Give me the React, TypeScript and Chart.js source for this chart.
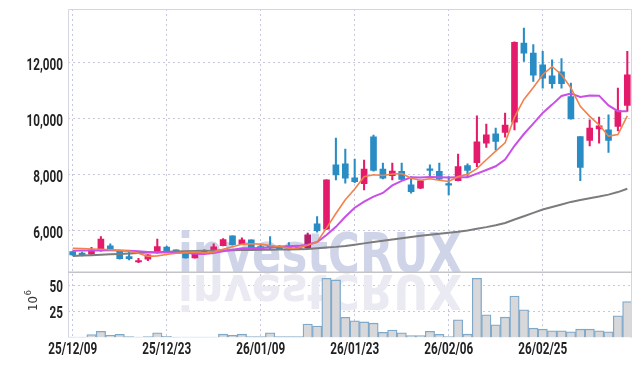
import React, { useEffect, useRef } from 'react';
import { Chart, registerables } from 'chart.js';
Chart.register(...registerables);

const FONT = '"DejaVu Sans Condensed", "Liberation Sans", sans-serif';
const TICK_FONT = 'bold 16px Roboto, "Liberation Sans", sans-serif';

const dates = ['25/12/09','25/12/10','25/12/11','25/12/12','25/12/15','25/12/16','25/12/17','25/12/18','25/12/19','25/12/22',
  '25/12/23','25/12/24','25/12/26','25/12/29','25/12/30','26/01/02','26/01/05','26/01/06','26/01/07','26/01/08',
  '26/01/09','26/01/12','26/01/13','26/01/14','26/01/15','26/01/16','26/01/19','26/01/20','26/01/21','26/01/22',
  '26/01/23','26/01/26','26/01/27','26/01/28','26/01/29','26/01/30','26/02/02','26/02/03','26/02/04','26/02/05',
  '26/02/06','26/02/09','26/02/10','26/02/11','26/02/12','26/02/13','26/02/19','26/02/20','26/02/23','26/02/24',
  '26/02/25','26/02/26','26/02/27','26/03/03','26/03/04','26/03/05','26/03/06','26/03/09','26/03/10','26/03/11'];

const opens = [5236,5180,5143,5271,5440,5271,5057,4868,4964,5200,
  5400,5296,5200,5015,5185,5230,5450,5796,5505,5654,
  5414,5440,5414,5440,5343,5357,6225,6036,8332,8371,
  7870,7660,9330,8185,7945,8100,7618,7500,8189,8100,
  7664,7771,8307,8414,9107,9440,9486,9857,12679,12321,
  11904,11511,11654,10771,9343,9200,9618,9582,9700,10450];

const closes = [5118,5110,5296,5679,5320,4986,4986,4914,5118,5414,
  5225,5225,5015,5220,5271,5410,5665,5480,5654,5360,
  5357,5393,5343,5357,5393,5832,5986,7796,7975,7857,
  7736,8185,8129,7857,8112,7810,7379,7761,8129,7821,
  7607,8271,8129,9154,9404,9164,9750,12700,12321,11536,
  11429,11225,11225,9975,8236,9643,9725,9200,10271,11546];

const highs = [5250,5215,5393,5772,5511,5290,5271,5000,5130,5679,
  5430,5300,5230,5230,5300,5511,5700,5800,5725,5660,
  5480,5775,5450,5557,5410,5893,6486,7800,9286,8893,
  8536,8500,9390,8393,8393,8393,7914,7790,8332,8393,
  7914,8714,8371,10082,9786,9643,10179,12720,13214,12620,
  12379,12082,12125,11250,9343,9939,10036,10118,11071,12379];

const lows = [5100,5082,5130,5250,5280,4970,4939,4843,4914,5180,
  5210,5220,5000,5000,5170,5220,5440,5470,5490,5340,
  5290,5321,5330,5296,5330,5340,5930,6020,7796,7679,
  7700,7439,8110,7830,7796,7790,7321,7480,7914,7800,
  7261,7760,7914,8271,8950,8868,9321,9582,12021,11307,
  11071,11071,11071,9960,7771,9011,9107,8771,9546,10236];

const volumes = [0.3,0.3,2.8,6,2.2,3,0.8,0.3,0.8,4.5,
  1.2,0.3,0.4,0.4,0.4,0.4,3.2,2,3.2,0.8,
  0.8,4.6,0.8,0.8,0.8,13,11,57,55.5,19.5,
  16,15,13.8,5,7.2,4.6,1.8,1.8,6,3,
  1,17,3.2,57,21.8,12.2,19.6,40,26.6,9,
  8,6.4,6.4,5.5,8,8,6.4,5.5,20.9,34.6];

const maShort = [5357,5345,5330,5318,5305,5278,5253,5177,5065,5084,
  5131,5179,5199,5220,5191,5228,5316,5409,5496,5514,
  5503,5449,5421,5362,5369,5464,5582,6073,6596,7089,
  7470,7910,7976,7953,8004,8019,7857,7784,7838,7780,
  7739,7918,7991,8196,8513,8824,9120,10034,10668,11094,
  11547,11842,11547,11078,10418,10061,9761,9356,9415,10077];

const maMid = [5271,5273,5276,5280,5282,5278,5265,5245,5222,5205,
  5205,5214,5195,5160,5150,5185,5248,5304,5358,5353,
  5366,5383,5415,5429,5441,5483,5580,5830,6120,6480,
  6800,7020,7200,7330,7600,7760,7890,7885,7896,7892,
  7879,7888,7888,8017,8147,8282,8519,9013,9432,9804,
  10186,10481,10791,10873,10756,10804,10802,10452,10247,10248];

const maLong = [5080,5095,5110,5125,5140,5155,5170,5185,5200,5215,
  5230,5240,5250,5258,5265,5272,5280,5285,5290,5295,
  5300,5305,5310,5315,5320,5330,5355,5380,5405,5440,
  5485,5530,5575,5620,5665,5710,5755,5800,5840,5870,
  5910,5945,5990,6050,6110,6180,6260,6380,6500,6620,
  6740,6830,6920,7010,7080,7140,7200,7270,7360,7480];

const priceTicks = [6000, 8000, 10000, 12000];
const volumeTicks = [25, 50];
const dateTickIdx = [0, 10, 20, 30, 40, 50];

const UP = '#e31b6a';
const DOWN = '#2a8cc4';
const GRID = '#c6c8de';
const TEXT = '#222222';

export default function App() {
  const ref = useRef<HTMLCanvasElement>(null);
  useEffect(() => {
    document.body.style.margin = '0';
    const candleColors = closes.map((c, i) => (i === 25 ? '#b4206e' : c >= opens[i] ? UP : DOWN));

    const watermark = {
      id: 'watermark',
      beforeDatasetsDraw(chart: any) {
        const ctx = chart.ctx;
        const base = chart.scales.y.bottom;
        const text = 'investCRUX';
        ctx.save();
        ctx.font = 'bold 60px ' + FONT;
        const w = ctx.measureText(text).width;
        const sx = 284 / w;
        ctx.fillStyle = 'rgb(208,212,232)';
        ctx.setTransform(sx, 0, 0, 39 / 43, 178, base);
        ctx.textBaseline = 'alphabetic';
        ctx.fillText(text, 0, 0);
        ctx.fillStyle = 'rgb(234,234,242)';
        ctx.setTransform(sx, 0, 0, -35 / 43, 178, base + 3);
        ctx.fillText(text, 0, 0);
        ctx.restore();
      },
    };

    const frame = {
      id: 'frame',
      afterDatasetsDraw(chart: any) {
        const ctx = chart.ctx;
        const { left, right, top, bottom } = chart.chartArea;
        const sep = chart.scales.y.bottom;
        ctx.save();
        ctx.strokeStyle = '#d3d5df';
        ctx.lineWidth = 1;
        ctx.beginPath();
        ctx.moveTo(left + 0.5, bottom);
        ctx.lineTo(left + 0.5, top + 0.5);
        ctx.lineTo(right - 0.5, top + 0.5);
        ctx.lineTo(right - 0.5, bottom);
        ctx.stroke();
        ctx.strokeStyle = '#c4c4c8';
        ctx.lineWidth = 1.5;
        ctx.beginPath();
        ctx.moveTo(left, sep);
        ctx.lineTo(right, sep);
        ctx.stroke();
        ctx.restore();
      },
    };

    const tickText = {
      id: 'tickText',
      afterDraw(chart: any) {
        const ctx = chart.ctx;
        const { x, y, yv } = chart.scales;
        ctx.save();
        ctx.fillStyle = TEXT;
        ctx.font = TICK_FONT;
        ctx.textBaseline = 'alphabetic';
        const SX = 49 / ctx.measureText(dates[0]).width;
        const draw = (t: string, px: number, baseline: number, align: 'right' | 'center') => {
          const w = ctx.measureText(t).width * SX;
          const x0 = align === 'right' ? px - w : px - w / 2;
          ctx.setTransform(SX, 0, 0, 1, x0, baseline);
          ctx.fillText(t, 0, 0);
        };
        priceTicks.forEach((v) => draw(v.toLocaleString('en-US'), 63, y.getPixelForValue(v) + 7.6, 'right'));
        volumeTicks.forEach((v) => draw(String(v), 63, yv.getPixelForValue(v) + 6.8, 'right'));
        dateTickIdx.forEach((i) => draw(dates[i], x.getPixelForValue(i), 354, 'center'));
        ctx.restore();
      },
    };

    const unitLabel = {
      id: 'unitLabel',
      afterDraw(chart: any) {
        const ctx = chart.ctx;
        const yv = chart.scales.yv;
        ctx.save();
        ctx.translate(37, yv.getPixelForValue(25.5));
        ctx.rotate(-Math.PI / 2);
        ctx.fillStyle = '#333';
        ctx.textBaseline = 'alphabetic';
        ctx.font = '13px ' + FONT;
        ctx.fillText('10', 0, 0);
        const w = ctx.measureText('10').width;
        ctx.font = '9px ' + FONT;
        ctx.fillText('6', w + 1, -6);
        ctx.restore();
      },
    };

    const chart = new Chart(ref.current as HTMLCanvasElement, {
      type: 'bar',
      data: {
        labels: dates,
        datasets: [
          { type: 'line', label: 'MA5', data: maShort, borderColor: '#f2824a', borderWidth: 1.6, pointRadius: 0, yAxisID: 'y', order: 0 } as any,
          { type: 'line', label: 'MA10', data: maMid, borderColor: '#c94fe6', borderWidth: 2, pointRadius: 0, yAxisID: 'y', order: 0 } as any,
          { type: 'line', label: 'MA60', data: maLong, borderColor: '#7c7c7c', borderWidth: 2, pointRadius: 0, yAxisID: 'y', order: 0 } as any,
          { type: 'bar', label: 'body', data: opens.map((o, i) => [o, closes[i]]), backgroundColor: candleColors, barThickness: 6, grouped: false, yAxisID: 'y', order: 1 } as any,
          { type: 'bar', label: 'wick', data: lows.map((l, i) => [l, highs[i]]), backgroundColor: candleColors, barThickness: 1.4, grouped: false, yAxisID: 'y', order: 2 } as any,
          { type: 'bar', label: 'volume', data: volumes, backgroundColor: '#d8d8da', borderColor: '#7fa9cb', borderWidth: 1.3, barPercentage: 1, categoryPercentage: 1, grouped: false, yAxisID: 'yv', order: 3 } as any,
        ],
      },
      options: {
        responsive: false,
        animation: false,
        devicePixelRatio: 1,
        layout: { padding: { top: 9, right: 10, left: 0, bottom: 0 } },
        plugins: { legend: { display: false }, tooltip: { enabled: false } },
        scales: {
          x: {
            offset: true,
            grid: { color: GRID, drawTicks: false, offset: false },
            border: { display: false, dash: [2, 3] },
            ticks: { display: false, autoSkip: false, maxRotation: 0 },
            afterBuildTicks: (s: any) => { s.ticks = dateTickIdx.map((v) => ({ value: v })); },
            afterFit: (s: any) => { s.height = 28.5; },
          },
          yv: {
            position: 'left', stack: 'panes', stackWeight: 65.2, min: 0, max: 62.9,
            grid: { color: GRID, drawTicks: false },
            border: { display: false, dash: [2, 3] },
            ticks: { display: false },
            afterBuildTicks: (s: any) => { s.ticks = volumeTicks.map((v) => ({ value: v })); },
            afterFit: (s: any) => { s.width = 68; },
          },
          y: {
            position: 'left', stack: 'panes', stackWeight: 263, min: 4500, max: 13893,
            grid: { color: GRID, drawTicks: false },
            border: { display: false, dash: [2, 3] },
            ticks: { display: false },
            afterBuildTicks: (s: any) => { s.ticks = priceTicks.map((v) => ({ value: v })); },
            afterFit: (s: any) => { s.width = 68; },
          },
        } as any,
      },
      plugins: [watermark, frame, tickText, unitLabel],
    });
    return () => chart.destroy();
  }, []);

  return (
    <div style={{ position: 'absolute', left: 0, top: 0, width: 642, height: 366, background: '#fff' }}>
      <canvas ref={ref} width={642} height={366} style={{ display: 'block', width: 642, height: 366 }} />
    </div>
  );
}
